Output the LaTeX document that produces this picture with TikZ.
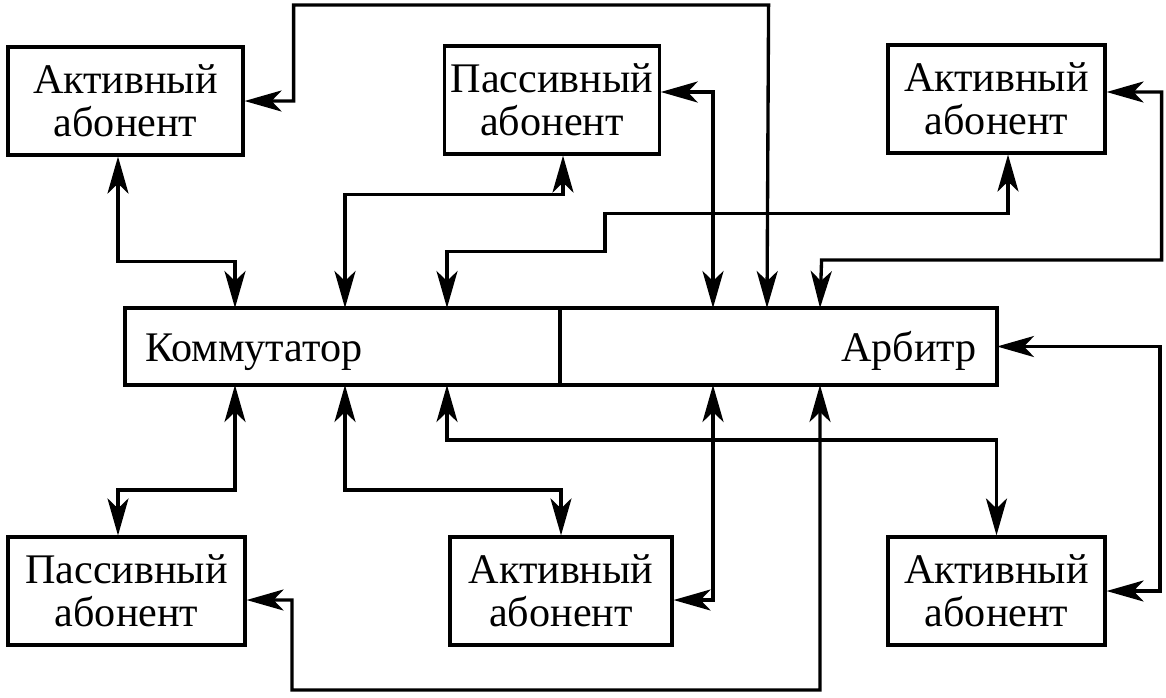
\documentclass[tikz,border=0pt]{standalone}
\usepackage{fontspec}
\setmainfont{Liberation Serif}
\newfontfamily\shrift{Liberation Serif}
\usepackage{tikz}
\usetikzlibrary{arrows.meta,positioning}
\tikzstyle{every node}=[thick]
\tikzstyle{abonent}=[draw,line width=1.8pt,minimum height=2.16cm,align=center,font=\shrift\fontsize{24}{24.5}\selectfont]
\tikzstyle{blok}=[draw,line width=1.8pt,minimum height=1.54cm,inner xsep=0.4cm,inner ysep=0pt,outer sep=0pt,font=\shrift\fontsize{24}{24.5}\selectfont]
\tikzstyle{svyaz}=[line width=1.9pt,<->]

\begin{document}
\begin{tikzpicture}[>={Stealth[length=0.74cm,width=0.42cm,inset=0.2cm]}]
	\useasboundingbox (0,0) rectangle (23.32,-13.94);
	\node(a1)[abonent,minimum width=4.7cm] at (2.51,-2.02){Активный\\абонент};
	\node(p1)[abonent,minimum width=4.2cm] at (11.04,-2.0){Пассивный\\абонент};
	\node(a2)[abonent,minimum width=4.34cm] at (19.93,-1.98){Активный\\абонент};
	\node(komm)[blok,text width=7.9cm,align=left] at (6.85,-6.93){\raisebox{0pt}[0.8cm][0.2cm]{Коммутатор}};
	\node(arb)[blok,text width=7.94cm,align=right,right=0pt of komm]{\raisebox{0pt}[0.8cm][0.2cm]{Арбитр}};
	\node(p2)[abonent,minimum width=4.74cm] at (2.53,-11.82){Пассивный\\абонент};
	\node(a3)[abonent,minimum width=4.44cm] at (11.22,-11.82){Активный\\абонент};
	\node(a4)[abonent,minimum width=4.34cm] at (19.93,-11.82){Активный\\абонент};

	\draw[svyaz] ([xshift=-0.15cm]a1.south) -- ++(0,-2.1) -| ([xshift=2.2cm]komm.north west);
	\draw[svyaz] ([xshift=0.22cm]p1.south) -- ++(0,-0.78) -| ([xshift=4.4cm]komm.north west);
	\draw[svyaz] ([xshift=0.23cm]a2.south) -- ++(0,-1.18) -| ++(-8.06,-0.76) -| ([xshift=6.44cm]komm.north west);
	\draw[svyaz] (a1.east) -- ++(0.98,0) |- ++(9.5,1.92) -- ([xshift=4.14cm]arb.north west);
	\draw[svyaz] ([yshift=0.16cm]p1.east) -| ([xshift=3.06cm]arb.north west);
	\draw[svyaz] ([yshift=0.14cm]a2.east) -- ++(1.1,0) |- ++(-6.8,-3.36) -- ([xshift=5.2cm]arb.north west);
	\draw[svyaz] (arb.east) -- ++(3.26,0) |- (a4.east);
	\draw[svyaz] ([xshift=2.2cm]komm.south west) -- ++(0,-2.1) -| ([xshift=-0.17cm]p2.north);
	\draw[svyaz] ([xshift=4.4cm]komm.south west) -- ++(0,-2.1) -| (a3.north);
	\draw[svyaz] ([xshift=6.44cm]komm.south west) -- ++(0,-1.1) -| (a4.north);
	\draw[svyaz] ([xshift=3.06cm]arb.south west) |- ([yshift=-0.18cm]a3.east);
	\draw[svyaz] ([xshift=5.2cm]arb.south west) -- ++(0,-6.1) -| ++(-10.56,1.8) -- ([yshift=-0.18cm]p2.east);
\end{tikzpicture}
\end{document}
